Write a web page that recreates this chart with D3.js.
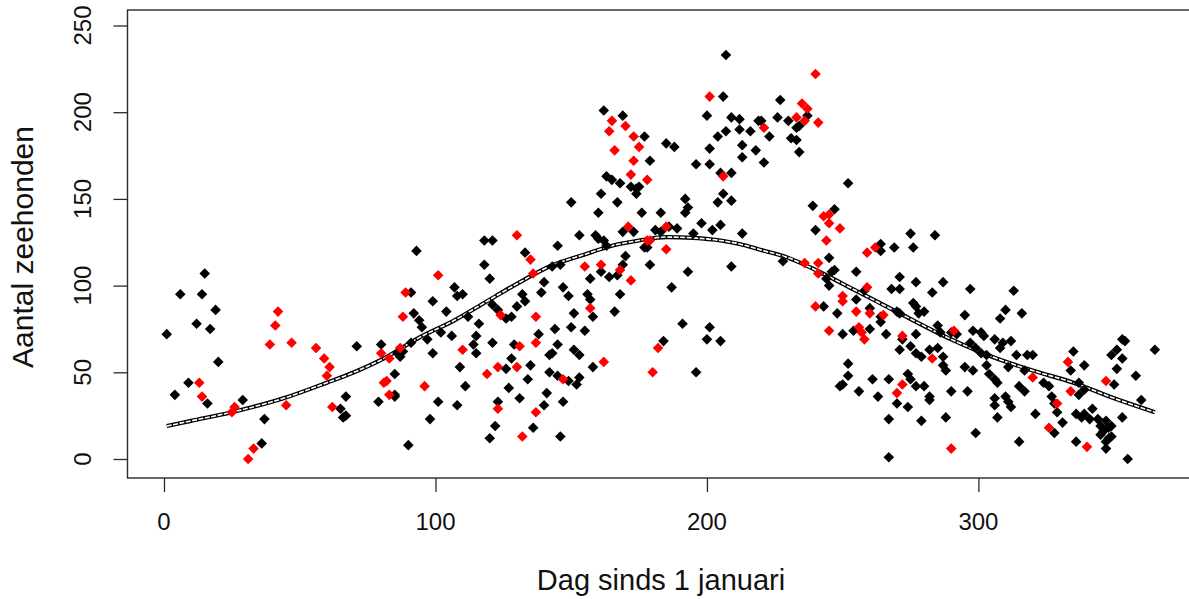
<!DOCTYPE html>
<html>
<head>
<meta charset="utf-8">
<script src="https://cdn.jsdelivr.net/npm/d3@7"></script>
<style>
  html, body { margin: 0; padding: 0; background: #fff; }
  svg { display: block; }
  text { font-family: "Liberation Sans", Arial, sans-serif; fill: #111; }
</style>
</head>
<body>
<svg id="chart" width="1189" height="599"></svg>
<script>
// Seal counts per day of the year; black = regular counts, red = highlighted counts
const blackPoints = [
  [15,107],[6,95],[14,95],[19,86],[12,78],[17,75],[1,72],[20,56],[71,65],[80,66],
  [85,49],[85,37],[79,33],[9,44],[4,37],[16,32],[29,34],[37,23],[36,9],[67,36],
  [65,29],[66,24],[67,25],
  [150,148],[161,153],[167,148],[160,142],[176,142],[118,126],[121,126],[93,120],[145,123],[153,129],
  [159,129],[162,126],[163,123],[173,131],[169,131],[177,122],[133,119],[118,112],[120,104],[143,111],
  [146,112],[161,108],[164,105],[167,106],[170,117],[169,112],[157,104],[140,102],[147,99],[149,94],
  [139,96],[107,99],[108,94],[110,95],[99,91],[132,95],[133,91],[130,88],[121,89],[123,86],[126,81],
  [128,82],[156,95],[157,92],[158,82],[151,84],[166,85],[168,95],[92,84],[91,96],[94,80],[95,76],
  [104,85],[112,82],[106,71],[102,73],[97,69],[91,67],[88,62],[87,59],[86,61],[99,61],[116,78],
  [115,71],[121,67],[114,66],[115,61],[129,66],[138,72],[144,75],[150,76],[155,74],[145,66],[143,61],
  [142,60],[151,63],[153,60],[158,53],[109,53],[128,58],[126,52],[135,54],[134,46],[142,50],[145,48],
  [149,45],[152,43],[153,47],[85,36],[111,42],[127,41],[131,35],[141,38],[101,33],[108,31],[123,33],
  [140,31],[147,33],[98,23],[122,19],[136,18],[146,13],[120,12],[90,8],
  [207,233],[206,209],[162,201],[169,198],[177,186],[185,182],[188,180],[200,198],[209,197],[212,196],
  [219,195],[207,189],[212,190],[216,189],[204,186],[213,181],[213,174],[218,178],[201,179],[179,172],
  [196,170],[201,170],[163,163],[165,161],[168,159],[172,157],[174,156],[175,157],[174,153],[205,165],
  [209,165],[206,153],[209,149],[204,148],[192,150],[193,145],[192,142],[183,142],[198,136],[205,135],
  [213,130],[202,132],[195,130],[186,134],[189,133],[181,132],[183,131],[160,127],[178,122],[179,112],
  [193,108],[209,111],
  [187,99],[191,78],[201,76],[200,69],[205,68],[184,68],[196,50],[228,114],[246,108],[244,104],
  [245,100],[243,88],[248,84],[249,42],
  [227,207],[237,198],[220,195],[226,197],[230,195],[233,191],[234,192],[223,186],[231,185],[233,184],
  [234,177],[221,171],[252,159],[239,146],[247,144],[240,132],[275,130],[284,129],[264,124],[264,120],
  [269,122],[276,122],[245,116],[247,109],[255,108],[271,105],
  [277,102],[287,102],[297,98],[268,98],[271,98],[283,96],[258,97],[255,92],[260,87],[264,79],
  [264,82],[270,85],[271,84],[276,90],[277,88],[280,85],[278,84],[295,83],[308,81],[250,72],
  [254,74],[260,75],[266,72],[272,69],[271,63],[277,72],[285,77],[286,73],[290,73],[292,72],
  [298,74],[301,73],[302,71],[297,67],[299,64],[301,61],[303,60],[306,69],[308,64],[275,65],
  [277,61],[279,59],[282,63],[285,64],[287,59],[287,54],[288,51],[295,53],[298,51],[303,54],
  [252,55],[252,48],[250,43],[256,39],[261,46],[263,36],[267,46],[274,49],[275,46],[277,42],
  [280,42],[282,36],[282,34],[270,32],[274,30],[290,39],[296,39],[306,35],[307,24],[267,23],
  [279,22],[288,24],[299,15],[267,1],
  [304,49],[306,46],[307,44],
  [313,97],[310,86],[316,84],[309,67],[312,68],[314,60],[318,60],[320,60],[311,53],[317,51],
  [315,42],[317,39],[324,44],[326,42],[306,31],[310,36],[311,33],[312,30],[321,26],[315,10],
  [327,36],[328,32],[329,27],[331,21],[328,15],[335,62],[334,51],[339,54],[337,44],[337,37],
  [339,40],[336,26],[338,24],[339,26],[341,23],[342,29],[344,23],[345,19],[347,22],[348,18],
  [349,19],[346,16],[345,14],[336,10],[347,10],[348,12],[349,13],[347,6],[355,0],[353,24],
  [360,34],[350,43],[349,60],[351,63],[353,69],[354,68],[353,58],[351,52],[358,48],[365,63]
];

const redPoints = [
  [42,85],[41,77],[39,66],[47,67],[56,64],[59,58],[61,53],[60,48],[80,61],[83,58],
  [81,44],[82,45],[83,37],[13,44],[14,36],[26,30],[25,27],[45,31],[33,6],[31,0],[62,30],
  [130,129],[135,115],[136,107],[101,106],[155,111],[161,112],[168,109],[172,103],[178,126],[171,134],
  [124,83],[137,82],[157,87],[88,82],[89,96],[87,64],[110,63],[131,65],[137,67],[162,56],
  [123,53],[130,53],[119,49],[147,46],[96,42],[123,29],[137,27],[132,13],[180,50],
  [201,209],[165,195],[164,189],[170,192],[173,186],[175,180],[166,178],[173,172],[172,164],[178,161],
  [206,163],[185,134],[179,126],[185,121],
  [182,64],[236,113],[241,113],[241,107],[240,88],[245,74],
  [240,222],[235,205],[237,202],[233,197],[236,195],[241,194],[221,191],[243,140],[245,141],[245,136],
  [249,133],[244,126],[262,122],[259,119],
  [259,99],[250,94],[250,91],[255,85],[260,84],[265,83],[256,76],[257,73],[258,69],[272,71],
  [291,74],[272,43],[270,38],[283,58],[290,6],
  [320,47],[329,32],[326,18],[333,56],[334,39],[340,7],[347,45]
];

// Fitted seasonal curve (day, expected count)
const curveDays   = [1, 10, 25, 44, 60, 70, 81, 94, 107, 119, 130, 142, 155, 165, 175, 185, 195, 205, 212, 220, 230, 240, 255, 271, 290, 305, 320, 335, 350, 365];
const curveCounts = [19, 22, 27, 35, 44, 50, 58, 70, 80, 91, 101, 111, 118, 123, 126, 128, 127.5, 126, 124, 120.5, 116, 109, 97, 84, 69, 59, 51, 44, 35, 27];

const xTicks = [0, 100, 200, 300];
const yTicks = [0, 50, 100, 150, 200, 250];

const xTitle = "Dag sinds 1 januari";
const yTitle = "Aantal zeehonden";

const svg = d3.select("#chart");

const x = d3.scaleLinear().domain([0, 300]).range([164, 978.4]);
const y = d3.scaleLinear().domain([0, 250]).range([459, 25.5]);

// plot region (extends slightly past the right edge of the page)
const box = { left: 127.5, right: 1194, top: 10, bottom: 478 };

// fitted curve: dark outline with a light core
const line = d3.line()
  .x((d, i) => x(curveDays[i]))
  .y(d => y(d))
  .curve(d3.curveMonotoneX);

svg.append("path")
  .datum(curveCounts)
  .attr("d", line)
  .attr("fill", "none")
  .attr("stroke", "#000")
  .attr("stroke-width", 4.2);

svg.append("path")
  .datum(curveCounts)
  .attr("d", line)
  .attr("fill", "none")
  .attr("stroke", "#fff")
  .attr("stroke-width", 1.6)
  .attr("stroke-dasharray", "5 1.5");

// filled diamond markers
const diamond = r => `M0,${-r}L${r},0L0,${r}L${-r},0Z`;

function drawPoints(data, color) {
  svg.append("g")
    .selectAll("path")
    .data(data)
    .join("path")
    .attr("d", diamond(5.3))
    .attr("transform", d => `translate(${x(d[0])},${y(d[1])})`)
    .attr("fill", color);
}
drawPoints(blackPoints, "#000");
drawPoints(redPoints, "#ff0000");

// frame
svg.append("rect")
  .attr("x", box.left)
  .attr("y", box.top)
  .attr("width", box.right - box.left)
  .attr("height", box.bottom - box.top)
  .attr("fill", "none")
  .attr("stroke", "#2a2a2a")
  .attr("stroke-width", 1.4);

// x axis
const xAxis = svg.append("g").attr("transform", `translate(0,${box.bottom})`)
  .call(d3.axisBottom(x).tickValues(xTicks).tickSize(14).tickFormat(""));
xAxis.select(".domain").remove();
xAxis.selectAll("line").attr("stroke", "#2a2a2a").attr("stroke-width", 1.3);

svg.append("g").selectAll("text")
  .data(xTicks)
  .join("text")
  .attr("x", d => x(d))
  .attr("y", 530)
  .attr("text-anchor", "middle")
  .attr("font-size", 24)
  .text(d => d);

// y axis
const yAxis = svg.append("g").attr("transform", `translate(${box.left},0)`)
  .call(d3.axisLeft(y).tickValues(yTicks).tickSize(14).tickFormat(""));
yAxis.select(".domain").remove();
yAxis.selectAll("line").attr("stroke", "#2a2a2a").attr("stroke-width", 1.3);

svg.append("g").selectAll("text")
  .data(yTicks)
  .join("text")
  .attr("transform", d => `translate(91,${y(d)}) rotate(-90)`)
  .attr("text-anchor", "middle")
  .attr("font-size", 24)
  .text(d => d);

// axis titles
svg.append("text")
  .attr("x", 661)
  .attr("y", 590)
  .attr("text-anchor", "middle")
  .attr("font-size", 29)
  .text(xTitle);

svg.append("text")
  .attr("transform", "translate(33,247) rotate(-90)")
  .attr("text-anchor", "middle")
  .attr("font-size", 30)
  .text(yTitle);
</script>
</body>
</html>
